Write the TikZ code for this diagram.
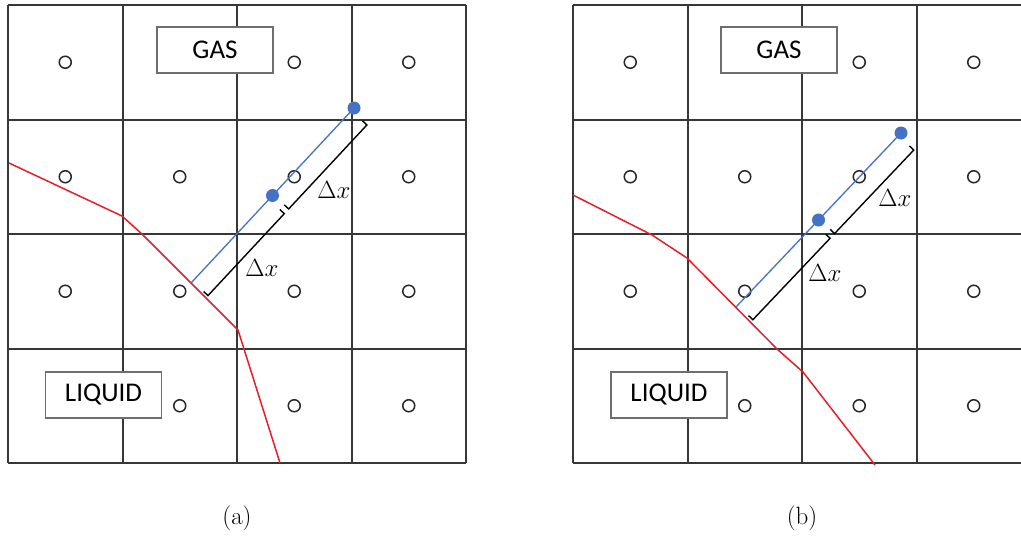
\documentclass[tikz,border=0pt]{standalone}
\usepackage{fontspec}
\newfontfamily\labfont{Carlito}
\usetikzlibrary{calc}
\definecolor{gridc}{RGB}{55,55,55}
\definecolor{boxc}{RGB}{110,110,110}
\definecolor{iface}{RGB}{232,30,38}
\definecolor{probe}{RGB}{68,114,196}
\tikzset{
  gridline/.style={draw=gridc, line width=1.8pt},
  cellpt/.style={circle, draw=black!85, line width=1.5pt, minimum size=12pt, inner sep=0pt},
  phase/.style={draw=boxc, fill=white, line width=1.2pt, minimum width=116pt, minimum height=46pt, inner sep=0pt, font=\labfont\fontsize{27}{30}\selectfont},
  ifline/.style={draw=iface, line width=1.5pt, line join=round},
  probeline/.style={draw=probe, line width=1.3pt},
  probedot/.style={circle, fill=probe, minimum size=13pt, inner sep=0pt},
  brk/.style={draw=black, line width=1.4pt, line join=miter},
  dxlab/.style={font=\fontsize{23}{27}\selectfont, inner sep=1pt},
  caplab/.style={font=\fontsize{25}{30}\selectfont}
}
\begin{document}
\begin{tikzpicture}[x=1pt, y=-1pt]
\useasboundingbox (0,0) rectangle (1021,536);
\clip (0,0) rectangle (1021,536);
% ---------- grids ----------
\foreach \ox/\p in {8/a, 573/b} {
  \foreach \i in {0,...,4} {
    \pgfmathsetmacro{\gx}{round(\ox+114.5*\i)}
    \pgfmathsetmacro{\gy}{round(5+114.5*\i)}
    \draw[gridline] (\gx,5) -- (\gx,463);
    \draw[gridline] (\ox,\gy) -- ({\ox+458},\gy);
  }
}
% ---------- cell centre markers ----------
\foreach \ox/\p in {8/a, 573/b} {
  \foreach \c/\r in {1/1,3/1,4/1, 1/2,2/2,3/2,4/2, 1/3,2/3,3/3,4/3, 2/4,3/4,4/4} {
    \node[cellpt] (c\p\c\r) at ({\ox+114.5*\c-57.25},{5+114.5*\r-57.25}) {};
  }
}
% ---------- interfaces ----------
\draw[ifline] (9,163) -- (122,216) -- (143,235) -- (238,330) -- (280,463);
\draw[ifline] (573,195) -- (652,235) -- (687,258) -- (777,349) -- (803,372) -- (875,465);
% ---------- phase labels ----------
\node[phase] (gasa) at (215,50) {GAS};
\node[phase] (liqa) at (103.5,395) {LIQUID};
\node[phase] (gasb) at (779,50) {GAS};
\node[phase] (liqb) at (669,395) {LIQUID};
% ---------- probes and brackets ----------
\foreach \p/\sx/\sy/\ex/\ey in {a/191/283/354/108, b/736/307/901/133} {
  \coordinate (S\p) at (\sx,\sy);
  \coordinate (E\p) at (\ex,\ey);
  \coordinate (M\p) at ($(S\p)!0.5!(E\p)$);
  \coordinate (So\p) at ($(S\p)!21pt!-90:(E\p)$);
  \coordinate (Eo\p) at ($(E\p)!21pt!90:(S\p)$);
  \coordinate (Si\p) at ($(S\p)!15pt!-90:(E\p)$);
  \coordinate (Ei\p) at ($(E\p)!15pt!90:(S\p)$);
  \draw[probeline] (S\p) -- (E\p);
  \node[probedot] (dm\p) at (M\p) {};
  \node[probedot] (de\p) at (E\p) {};
  \draw[brk] ($(Si\p)!0.01!(Ei\p)$) -- ($(So\p)!0.01!(Eo\p)$) -- ($(So\p)!0.478!(Eo\p)$) -- ($(Si\p)!0.478!(Ei\p)$);
  \draw[brk] ($(Si\p)!0.505!(Ei\p)$) -- ($(So\p)!0.505!(Eo\p)$) -- ($(So\p)!0.985!(Eo\p)$) -- ($(Si\p)!0.985!(Ei\p)$);
}
\node[dxlab] (dxa1) at (262,268) {$\Delta x$};
\node[dxlab] (dxa2) at (334,190) {$\Delta x$};
\node[dxlab] (dxb1) at (825,273) {$\Delta x$};
\node[dxlab] (dxb2) at (895,198) {$\Delta x$};
% ---------- captions ----------
\node[caplab] (capa) at (237,518) {(a)};
\node[caplab] (capb) at (802,518) {(b)};
\end{tikzpicture}
\end{document}
